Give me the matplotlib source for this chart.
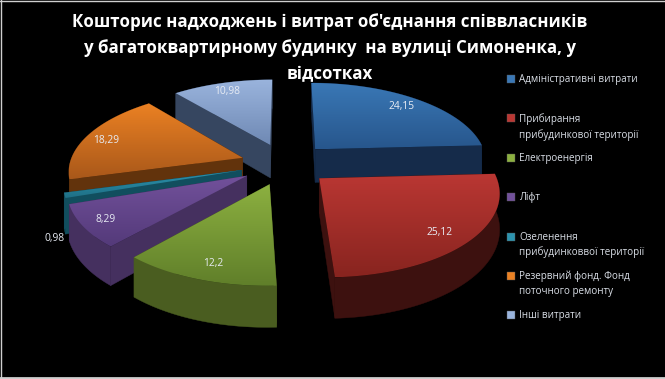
import numpy as np
import matplotlib
matplotlib.use('Agg')
import matplotlib.pyplot as plt
from matplotlib.colors import LinearSegmentedColormap
from matplotlib.patches import Polygon

title_lines = ["Кошторис надходжень і витрат об'єднання співвласників",
               "у багатоквартирному будинку  на вулиці Симоненка, у",
               "відсотках"]
values = [24.15, 25.12, 12.2, 8.29, 0.98, 18.29, 10.98]
value_labels = ['24,15', '25,12', '12,2', '8,29', '0,98', '18,29', '10,98']
legend_labels = ['Адміністративні витрати', 'Прибирання\nприбудинкової території', 'Електроенергія', 'Ліфт',
                 'Озеленення\nприбудинковвої території', 'Резервний фонд. Фонд\nпоточного ремонту', 'Інші витрати']
top_light = ['#3A78B6', '#BA3733', '#8CB040', '#72519B', '#2C93AE', '#EB8123', '#9AB4DD']
top_dark = ['#27568C', '#88241F', '#607F2A', '#543A7A', '#1F7086', '#A9581A', '#6F89B4']
side_colors = ['#152B4A', '#3D110F', '#4A5D20', '#45305F', '#114E5E', '#62330C', '#364660']
label_radius = [0.72, 0.72, 0.72, 0.72, 1.27, 0.72, 0.88]
label_shift = [(11, -6), (16, 10), (-7, 14), (-26, 8), (40, 36), (-24, -1), (0, 2)]

# projection of the tilted pie, in pixels of the picture
cx, cy = 285, 164
rx, ry = 173, 80
persp = 0.146
explode = 0.26
depth = 34


def project(px, pv):
    w = 1 + persp * pv
    return cx + rx * px / w, cy - ry * pv / w, w


def wedge_xy(mid, r, t):
    return explode * np.sin(mid) + r * np.sin(t), explode * np.cos(mid) + r * np.cos(t)


plt.rcParams['font.family'] = ['Open Sans', 'DejaVu Sans']
fig = plt.figure(figsize=(6.65, 3.79), dpi=100, facecolor='black')
ax = fig.add_axes([0, 0, 1, 1])
ax.set_facecolor('black')
ax.axis('off')

edges = np.cumsum([0] + values) / sum(values) * 2 * np.pi
slices = []
for i in range(len(values)):
    a0, a1 = edges[i], edges[i + 1]
    mid = (a0 + a1) / 2
    slices.append((explode * np.cos(mid), i, a0, a1, mid))

# back to front
for _, i, a0, a1, mid in sorted(slices, reverse=True):
    t = np.linspace(a0, a1, 60)
    px, pv = wedge_xy(mid, 1, t)
    ax0, av0 = wedge_xy(mid, 0, 0.0)
    x, y, w = project(px, pv)
    apex_x, apex_y, apex_w = project(ax0, av0)
    yb = y + depth / w
    apex_yb = apex_y + depth / apex_w

    strip = np.column_stack([np.r_[x, x[::-1]], np.r_[y, yb[::-1]]])
    ax.add_patch(Polygon(strip, closed=True, fc=side_colors[i], ec=side_colors[i], lw=0.3, zorder=2))
    for j in (0, -1):
        face = [(apex_x, apex_y), (x[j], y[j]), (x[j], yb[j]), (apex_x, apex_yb)]
        ax.add_patch(Polygon(face, closed=True, fc=side_colors[i], ec=side_colors[i], lw=0.3, zorder=2))

    top_xy = np.column_stack([np.r_[apex_x, x], np.r_[apex_y, y]])
    clip = Polygon(top_xy, closed=True, transform=ax.transData)
    grad = np.linspace(0, 1, 128).reshape(-1, 1)
    cmap = LinearSegmentedColormap.from_list('c%d' % i, [top_light[i], top_dark[i]])
    im = ax.imshow(grad, cmap=cmap, aspect='auto', zorder=2,
                   extent=[top_xy[:, 0].min(), top_xy[:, 0].max(), top_xy[:, 1].max(), top_xy[:, 1].min()])
    im.set_clip_path(clip)

    lx, lv = wedge_xy(mid, label_radius[i], mid)
    tx, ty, _ = project(lx, lv)
    ax.text(tx + label_shift[i][0], ty + label_shift[i][1], value_labels[i], color='#E8ECF4', fontsize=7.4,
            ha='center', va='center', zorder=5)

ax.set_xlim(0, 665)
ax.set_ylim(379, 0)

for n, line in enumerate(title_lines):
    ax.text(330, 22 + 26 * n, line, color='white', fontsize=12.2, fontweight='bold', ha='center', va='center')

# legend entries sit on a regular 39.4 px step
legend_y = 79 + 39.4 * np.arange(len(legend_labels))
for i, lab in enumerate(legend_labels):
    ax.scatter([511], [legend_y[i]], marker='s', s=26, color=top_light[i], edgecolors='#555555', linewidths=0.3, zorder=5)
    ax.text(519, legend_y[i] - 5, lab, color='#D9DEE6', fontsize=7.1, ha='left', va='top', linespacing=1.45, zorder=5)

# thin light frame of the screenshot
ax.plot([0.5, 0.5], [0, 379], color='#CFCFCF', lw=1, zorder=6)
ax.plot([0, 665], [0.5, 0.5], color='#CFCFCF', lw=1, zorder=6)
ax.plot([0, 665], [378, 378], color='#CFCFCF', lw=2, zorder=6)

fig.savefig('out.png', dpi=100, facecolor='black')
